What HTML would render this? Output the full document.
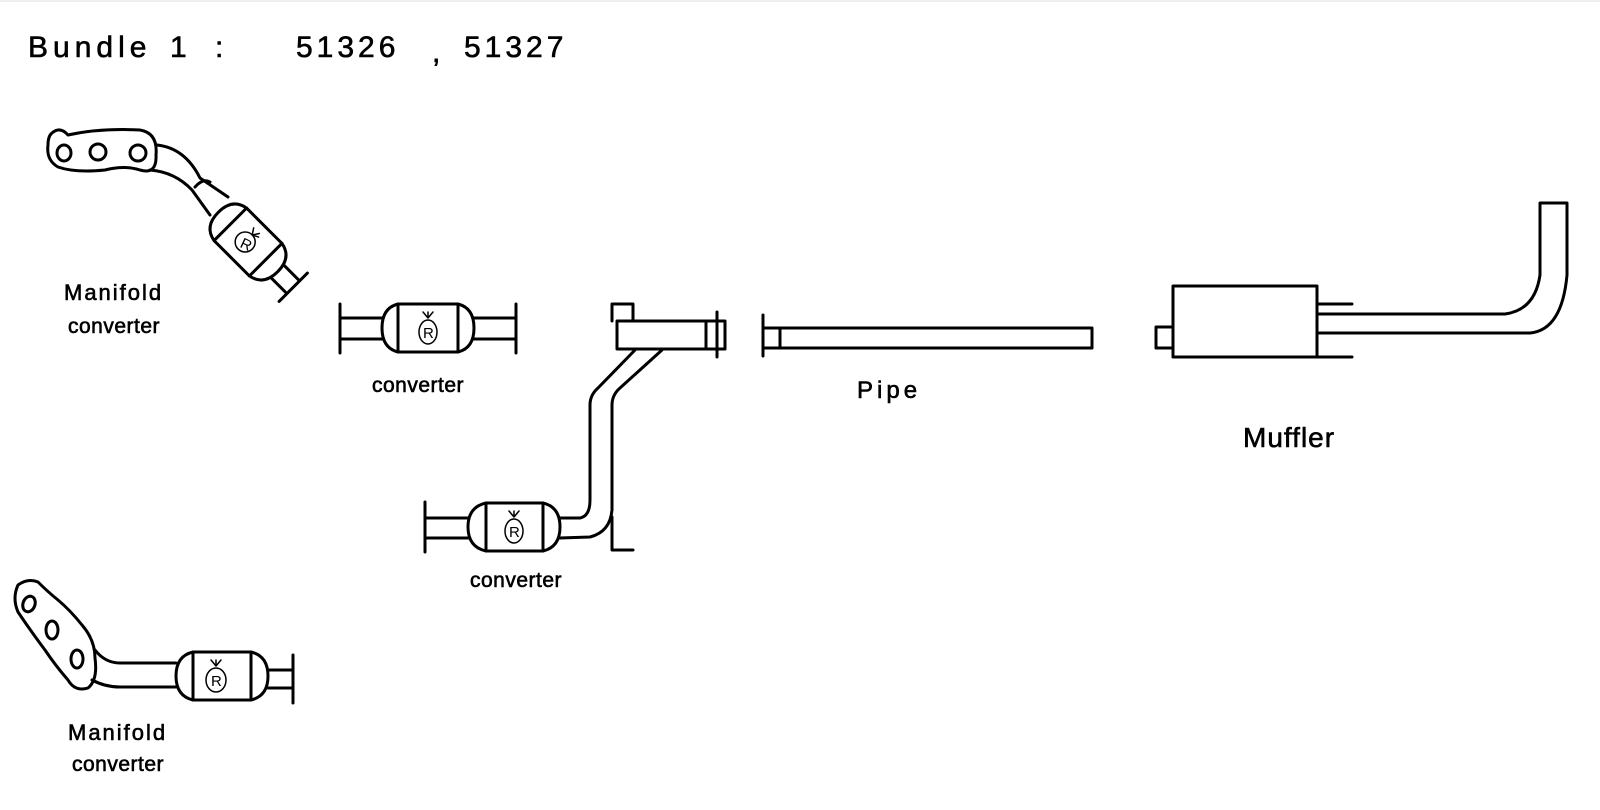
<!DOCTYPE html>
<html><head><meta charset="utf-8"><style>
html,body{margin:0;padding:0;background:#fff;}
svg{display:block;}
text{font-family:"Liberation Sans",sans-serif;fill:#000;}
</style></head><body>
<svg width="1600" height="810" viewBox="0 0 1600 810" xmlns="http://www.w3.org/2000/svg">
<rect x="0" y="0" width="1600" height="810" fill="#fff"/>
<line x1="0" y1="1" x2="1600" y2="1" stroke="#ddd" stroke-width="1"/>
<g fill="none" stroke="#000" stroke-width="3" stroke-linejoin="round" stroke-linecap="round">

<!-- Manifold 1 -->
<path d="M52,133 Q60,126 68,135 Q100,128 140,130 Q158,133 156,155 Q157,175 140,170 Q125,165 105,170 Q75,173 58,167 Q46,160 48,145 Q48,136 52,133 Z"/>
<ellipse cx="64" cy="153" rx="7" ry="8"/>
<ellipse cx="98" cy="152" rx="8" ry="8"/>
<ellipse cx="138" cy="153" rx="8" ry="8"/>
<path d="M157,145 Q185,148 200,178 L228,197"/>
<path d="M150,170 Q175,172 192,190 L210,215"/>
<path d="M195,187 Q203,178 210,182"/>
<g transform="translate(248,242) rotate(45)">
  <rect x="-25" y="-23" width="50" height="46"/>
  <path d="M-25,-23 Q-42,-20 -42,0 Q-42,20 -25,23"/>
  <path d="M25,-23 Q42,-20 42,0 Q42,20 25,23"/>
  <path d="M42,-9 L64,-9 M42,9 L64,9 M64,-20 L64,20"/>
  <circle cx="-2" cy="2" r="10" stroke-width="1.5"/>
  <text x="-6" y="8" font-size="15" stroke="none" transform="rotate(-20)">R</text>
  <path d="M-2,-8 l4,-6 m-4,6 l-4,-6 m4,6 l6,-3" stroke-width="1.5"/>
</g>

<!-- Converter 1 -->
<g transform="translate(428,328)">
  <rect x="-30" y="-24" width="60" height="48"/>
  <path d="M-30,-24 Q-46,-20 -46,0 Q-46,20 -30,24"/>
  <path d="M30,-24 Q46,-20 46,0 Q46,20 30,24"/>
  <path d="M-46,-10 L-88,-10 M-46,11 L-88,11 M-88,-24 L-88,25"/>
  <path d="M46,-10 L88,-10 M46,11 L88,11 M88,-24 L88,25"/>
  <ellipse cx="0" cy="4" rx="9" ry="12" stroke-width="1.5"/>
  <text x="-5" y="10" font-size="15" stroke="none">R</text>
  <path d="M0,-10 l-5,-6 m5,6 l0,-6 m0,6 l5,-6" stroke-width="1.5"/>
</g>

<!-- Converter 2 with bent pipe -->
<g transform="translate(514,527)">
  <rect x="-28" y="-24" width="57" height="48"/>
  <path d="M-28,-24 Q-46,-20 -46,0 Q-46,20 -28,24"/>
  <path d="M29,-24 Q46,-20 46,0 Q46,20 29,24"/>
  <path d="M-46,-9 L-89,-9 M-46,11 L-89,11 M-89,-25 L-89,25"/>
  <ellipse cx="0" cy="4" rx="9" ry="12" stroke-width="1.5"/>
  <text x="-5" y="10" font-size="15" stroke="none">R</text>
  <path d="M0,-10 l-5,-6 m5,6 l0,-6 m0,6 l5,-6" stroke-width="1.5"/>
</g>
<path d="M560,518 L580,518 Q590,516 590,500 L590,405 Q590,395 598,388 L635,350"/>
<path d="M560,538 L590,537 Q610,532 612,510 L612,405 Q612,395 620,388 L662,350"/>
<path d="M612,517 L612,550 L633,550"/>
<rect x="617" y="321" width="108" height="28"/>
<path d="M706,321 L706,349 M717,312 L717,357"/>
<path d="M612,321 L612,304 L633,304 L633,321"/>

<!-- Pipe -->
<path d="M763,315 L763,356"/>
<rect x="763" y="328" width="329" height="20"/>
<path d="M780,328 L780,348"/>

<!-- Muffler -->
<rect x="1173" y="286" width="144" height="71"/>
<rect x="1156" y="327" width="17" height="21"/>
<path d="M1317,304 L1352,304 M1317,357 L1352,357"/>
<path d="M1317,314 L1505,314 Q1535,310 1540,275 L1540,203 L1567,203 L1567,275 Q1562,330 1530,333 L1317,333"/>

<!-- Manifold 2 -->
<path d="M18,585 Q28,578 38,582 Q48,592 58,600 Q70,610 82,625 Q95,640 95,658 Q98,680 88,688 Q75,692 68,680 Q55,665 45,650 Q30,630 18,612 Q12,598 18,585 Z"/>
<ellipse cx="29" cy="604" rx="6" ry="8" transform="rotate(20 29 604)"/>
<ellipse cx="52" cy="630" rx="6" ry="9"/>
<ellipse cx="77" cy="659" rx="6" ry="9"/>
<path d="M95,650 Q105,663 120,663 L176,663"/>
<path d="M92,680 Q105,687 120,687 L176,687"/>
<g transform="translate(222,676)">
  <rect x="-29" y="-24" width="58" height="48"/>
  <path d="M-29,-24 Q-46,-20 -46,0 Q-46,20 -29,24"/>
  <path d="M29,-24 Q46,-20 46,0 Q46,20 29,24"/>
  <path d="M46,-6 L71,-6 M46,12 L71,12 M71,-21 L71,27"/>
  <ellipse cx="-6" cy="4" rx="10" ry="12" stroke-width="1.5"/>
  <text x="-11" y="10" font-size="15" stroke="none">R</text>
  <path d="M-6,-10 l-5,-6 m5,6 l0,-6 m0,6 l5,-6" stroke-width="1.5"/>
</g>
</g>

<!-- Labels -->
<g stroke="#000" stroke-width="0.6">
<text x="28" y="57" font-size="30" letter-spacing="5">Bundle</text>
<text x="170" y="57" font-size="30">1</text>
<text x="215" y="57" font-size="30">:</text>
<text x="296" y="57" font-size="30" letter-spacing="4">51326</text>
<text x="432" y="62" font-size="30">,</text>
<text x="464" y="57" font-size="30" letter-spacing="4">51327</text>
<text x="64" y="300" font-size="22" letter-spacing="2">Manifold</text>
<text x="68" y="333" font-size="21" letter-spacing="0.5">converter</text>
<text x="372" y="392" font-size="21" letter-spacing="0.5">converter</text>
<text x="470" y="587" font-size="21" letter-spacing="0.5">converter</text>
<text x="857" y="398" font-size="24" letter-spacing="4">Pipe</text>
<text x="1243" y="447" font-size="28" letter-spacing="1">Muffler</text>
<text x="68" y="740" font-size="22" letter-spacing="2">Manifold</text>
<text x="72" y="771" font-size="21" letter-spacing="0.5">converter</text>
</g>
</svg>
</body></html>
